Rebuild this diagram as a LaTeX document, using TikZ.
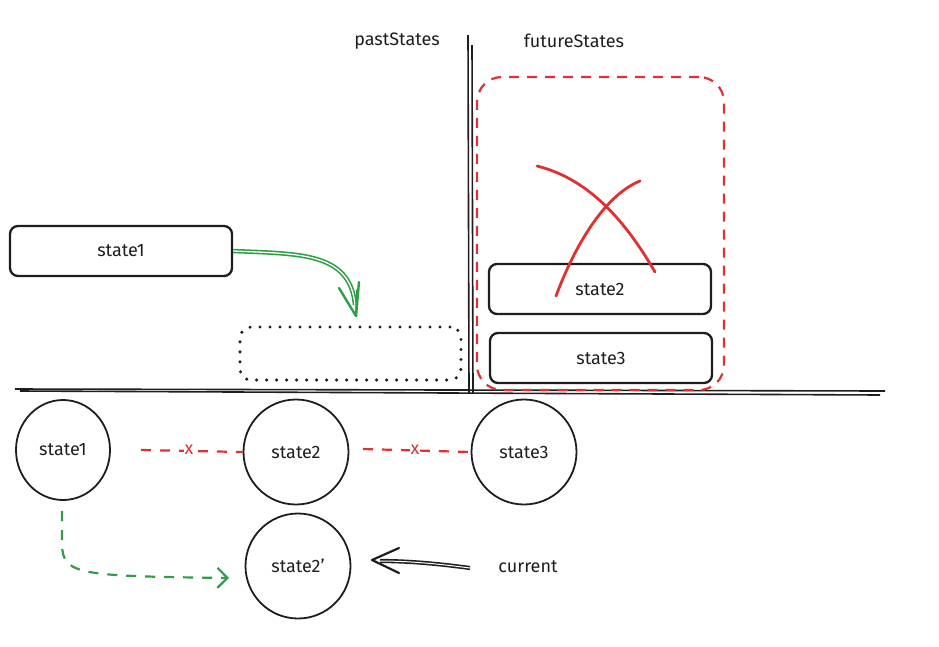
\documentclass[tikz,border=0pt]{standalone}
\usepackage{fontspec}
\setmainfont{Fira Sans}
\usetikzlibrary{arrows.meta,shapes.geometric}
\definecolor{sred}{HTML}{E03131}
\definecolor{sgreen}{HTML}{2F9E44}
\definecolor{sblack}{HTML}{1E1E1E}
\tikzset{
  lbl/.style={font=\fontsize{18}{20}\selectfont, text=sblack},
  rbox/.style={draw=sblack, line width=2.3pt, rounded corners=8pt, minimum width=222pt, minimum height=50pt, inner sep=0pt},
  dotbox/.style={draw=sblack, line width=3.4pt, line cap=round, dash pattern=on 0pt off 10pt, rounded corners=11pt, minimum width=221pt, minimum height=53pt, inner sep=0pt},
  scirc/.style={draw=sblack, line width=1.8pt, ellipse, minimum width=94pt, minimum height=100pt, inner sep=0pt},
  circ/.style={draw=sblack, line width=1.8pt, circle, minimum size=105pt, inner sep=0pt},
  rdash/.style={draw=sred, line width=2.2pt, dash pattern=on 10pt off 9pt},
  gdash/.style={draw=sgreen, line width=2.2pt, dash pattern=on 10pt off 9pt},
  barb/.style={-{Straight Barb[length=10pt,width=20pt,line width=2.2pt]}},
}
\begin{document}
\begin{tikzpicture}[x=1pt,y=-1pt]
\useasboundingbox (0,0) rectangle (939,646);
% axes
\coordinate (vt1) at (468,35); \coordinate (vb1) at (469,393);
\coordinate (vt2) at (472,45); \coordinate (vb2) at (473,393);
\draw[sblack, line width=1.6pt] (vt1) -- (vb1);
\draw[sblack, line width=1.6pt] (vt2) -- (vb2);
\coordinate (hl1) at (15,389); \coordinate (hr1) at (885,391);
\coordinate (hl2) at (20,391); \coordinate (hr2) at (880,395);
\draw[sblack, line width=1.6pt] (hl1) -- (hr1);
\draw[sblack, line width=1.6pt] (hl2) -- (hr2);
% titles
\node[lbl] (past) at (397,41) {pastStates};
\node[lbl] (future) at (574,41) {futureStates};
% future container
\node[draw=sred, line width=2.2pt, dash pattern=on 10pt off 8pt, rounded corners=25pt, minimum width=247pt, minimum height=313pt, inner sep=0pt] (fut) at (600.5,233.5) {};
% boxes
\node[rbox, lbl] (s1box) at (121,251) {state1};
\node[dotbox] (ghost) at (350.5,353.5) {};
\node[rbox, lbl] (s2box) at (600,289) {state2};
\node[rbox, lbl] (s3box) at (601,358) {state3};
% red cross
\coordinate (xa1) at (537,166); \coordinate (xa2) at (655,272);
\coordinate (xb1) at (640,181); \coordinate (xb2) at (556,296);
\draw[sred, line width=2.8pt, line cap=round] (xa1) .. controls (585,178) and (622,215) .. (xa2);
\draw[sred, line width=2.8pt, line cap=round] (xb1) .. controls (605,195) and (575,245) .. (xb2);
% green double arrow
\coordinate (garrowend) at (356,316);
\draw[sgreen, line width=1.6pt, double=white, double distance=1.3pt] (s1box.east) .. controls (300,254) and (350,252) .. (355,305);
\draw[sgreen, line width=2.4pt, line cap=round, line join=round] (339,288) -- (garrowend) -- (359,282);
\draw[sgreen, line width=2pt, line cap=round] (357,290) -- (garrowend);
% circles
\node[scirc, lbl] (c1) at (63,450) {state1};
\node[circ, lbl] (c2) at (296,452) {state2};
\node[circ, lbl] (c3) at (524,452) {state3};
\node[circ, lbl] (c2p) at (298,566) {state2'};
% red dashed links
\coordinate (l1a) at (141,450); \coordinate (l1b) at (c2.west);
\draw[rdash] (l1a) -- (l1b);
\node[lbl, text=sred, fill=white, inner sep=1pt] (x1) at (189,450) {x};
\coordinate (l2a) at (363,449); \coordinate (l2b) at (c3.west);
\draw[rdash] (l2a) -- (l2b);
\node[lbl, text=sred, fill=white, inner sep=1pt] (x2) at (415,450) {x};
% green dashed arrow
\coordinate (gd1) at (62,511); \coordinate (gd2) at (229,578);
\draw[gdash, barb] (gd1) -- (62,545) .. controls (63,575) and (80,576) .. (gd2);
% current arrow
\node[lbl] (cur) at (528,567) {current};
\coordinate (ca) at (470,568);
\draw[sblack, line width=1.6pt, double=white, double distance=1pt] (ca) .. controls (440,564) and (410,561) .. (380,561);
\draw[sblack, line width=2.2pt, line cap=round, line join=round] (399,548) -- (372,560) -- (399,573);
\end{tikzpicture}
\end{document}
